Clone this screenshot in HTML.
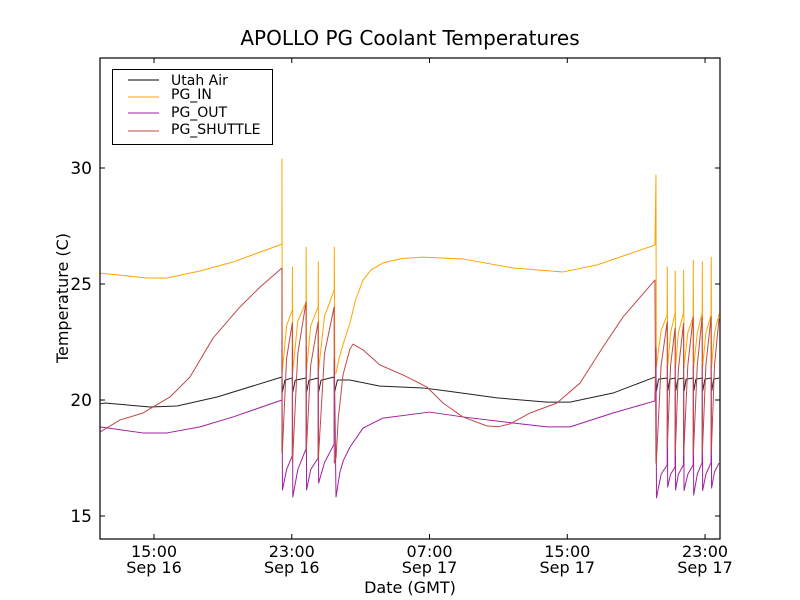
<!DOCTYPE html>
<html><head><meta charset="utf-8"><style>
body{margin:0;background:#fff;}
svg{display:block;font-family:"DejaVu Sans","Liberation Sans",sans-serif;}
</style></head><body>
<svg id="chart" width="800" height="600">
<rect width="800" height="600" fill="#fff"/>
<text x="410" y="45" font-size="20" text-anchor="middle">APOLLO PG Coolant Temperatures</text>
<g id="series"></g>
<g id="axes"></g>
<text x="410" y="593" font-size="16" text-anchor="middle">Date (GMT)</text>
<text transform="translate(68,298) rotate(-90)" font-size="16" text-anchor="middle">Temperature (C)</text>
<g>
<rect x="112.5" y="69.5" width="160" height="75" fill="#fff" stroke="#000" stroke-width="1"/>
<line x1="128" y1="80" x2="159" y2="80" stroke="#000" stroke-width="1"/>
<text x="171" y="85" font-size="14">Utah Air</text>
<line x1="128" y1="97" x2="159" y2="97" stroke="#ffa500" stroke-width="1"/>
<text x="171" y="99" font-size="14">PG_IN</text>
<line x1="128" y1="113" x2="159" y2="113" stroke="#a020a0" stroke-width="1"/>
<text x="171" y="117" font-size="14">PG_OUT</text>
<line x1="128" y1="131" x2="159" y2="131" stroke="#c04848" stroke-width="1"/>
<text x="171" y="134" font-size="14">PG_SHUTTLE</text>
</g>
</svg>
<script>
// hours since Sep 16 00:00 GMT
const airHours=[11.86,12.15,14.77,16.34,18.66,22.43,22.46,22.6,23.03,23.06,23.2,23.83,23.86,24.0,24.53,24.56,24.7,25.46,25.49,25.65,26.38,28.12,30.62,32.01,34.92,37.82,39.16,41.66,44.09,44.15,44.18,44.3,44.81,44.84,44.95,45.27,45.3,45.42,45.76,45.79,45.9,46.32,46.35,46.47,46.84,46.87,46.99,47.36,47.39,47.5,47.81];
const airTemps=[19.83,19.87,19.70,19.74,20.13,20.99,20.35,20.85,20.95,20.35,20.85,20.95,20.35,20.85,20.95,20.35,20.85,20.99,20.35,20.86,20.86,20.60,20.52,20.39,20.09,19.91,19.91,20.30,20.99,20.99,20.4,20.9,20.95,20.4,20.9,20.95,20.4,20.9,20.95,20.4,20.9,20.95,20.4,20.9,20.95,20.4,20.9,20.95,20.4,20.9,20.95];
const inHours=[11.86,14.59,15.75,17.67,19.59,22.43,22.43,22.45,22.7,23.03,23.04,23.06,23.35,23.83,23.84,23.86,24.1,24.53,24.54,24.56,24.9,25.46,25.47,25.5,25.57,25.75,25.98,26.38,26.7,27.14,27.6,28.30,29.4,30.62,32.94,35.85,38.75,40.72,44.09,44.15,44.17,44.45,44.80,44.81,44.83,45.0,45.26,45.27,45.29,45.45,45.75,45.76,45.78,46.0,46.31,46.32,46.34,46.55,46.83,46.84,46.86,47.05,47.35,47.36,47.38,47.55,47.81];
const inTemps=[25.47,25.26,25.26,25.56,25.95,26.72,30.39,21.21,23.2,23.88,25.73,21.21,23.4,24.22,26.59,21.29,23.2,24.01,25.95,21.29,23.6,24.74,26.59,21.16,21.16,21.8,22.4,23.32,24.3,25.17,25.6,25.91,26.1,26.16,26.08,25.69,25.52,25.82,26.68,29.70,21.42,23.0,23.66,25.73,21.42,22.9,23.75,25.56,21.42,22.9,23.75,25.60,21.42,22.9,23.58,26.03,21.42,22.9,23.75,25.95,21.42,22.9,23.66,26.16,21.42,22.9,23.71];
const outHours=[11.86,14.36,15.75,17.67,19.59,22.43,22.43,22.46,22.7,23.03,23.04,23.06,23.35,23.83,23.84,23.86,24.1,24.53,24.54,24.56,24.9,25.46,25.47,25.57,25.8,26.0,26.38,27.14,28.30,31.0,32.94,35.85,37.82,39.16,41.66,44.09,44.15,44.18,44.45,44.80,44.81,44.83,45.0,45.26,45.27,45.29,45.45,45.75,45.76,45.78,46.0,46.31,46.32,46.34,46.55,46.83,46.84,46.86,47.05,47.35,47.36,47.38,47.55,47.81];
const outTemps=[18.84,18.58,18.58,18.84,19.27,20.0,22.67,16.12,17.0,17.6,22.2,15.82,17.0,17.9,22.3,16.12,17.0,17.5,22.2,16.42,17.3,18.1,21.8,15.82,16.9,17.4,17.97,18.79,19.22,19.48,19.27,19.01,18.84,18.84,19.44,19.96,22.24,15.78,16.8,17.2,21.5,16.25,16.8,17.11,21.5,16.12,16.8,17.2,21.5,16.1,16.8,17.2,21.5,15.9,16.8,17.3,21.5,16.1,16.8,17.3,21.5,16.2,16.9,17.28];
const shuttleHours=[11.86,13.03,14.36,15.93,17.09,18.43,19.99,21.16,22.43,22.43,22.45,22.7,23.03,23.04,23.35,23.83,23.84,24.1,24.53,24.54,24.9,25.46,25.47,25.57,25.7,25.98,26.38,26.56,27.14,28.12,29.46,30.85,31.78,32.94,34.34,35.0,35.67,36.84,38.40,39.74,41.07,42.24,44.09,44.15,44.17,44.45,44.80,44.81,45.0,45.26,45.27,45.45,45.75,45.76,46.0,46.31,46.32,46.55,46.83,46.84,47.05,47.35,47.36,47.55,47.81];
const shuttleTemps=[18.62,19.14,19.44,20.13,20.99,22.67,24.01,24.87,25.69,17.72,17.72,21.8,23.32,17.28,22.0,24.22,17.72,21.5,23.36,17.41,22.0,24.01,17.28,17.5,19.2,21.1,22.2,22.41,22.16,21.51,21.08,20.56,19.87,19.27,18.88,18.85,18.97,19.44,19.87,20.73,22.28,23.58,25.17,17.28,17.28,21.5,23.36,17.97,21.5,23.10,17.63,21.3,23.3,17.63,21.5,23.58,17.63,21.5,23.58,17.63,21.5,23.58,17.63,21.5,23.5];
const yTicks=[15,20,25,30];
const xTickHours=[15,23,31,39,47];
const xTickTimes=["15:00","23:00","07:00","15:00","23:00"];
const xTickDates=["Sep 16","Sep 16","Sep 17","Sep 17","Sep 17"];

const NS="http://www.w3.org/2000/svg";
const L=100,R=720,T=58,B=539;
function xs(h){return 154+(h-15)*17.22;}
function ys(v){return 400-(v-20)*23.2;}
const sg=document.getElementById('series');
function mk(tag,attrs,parent){const e=document.createElementNS(NS,tag);for(const k in attrs)e.setAttribute(k,attrs[k]);parent.appendChild(e);return e;}
function drawLine(hs,vs,color,name){
  let d='';for(let i=0;i<hs.length;i++){d+=(i?'L':'M')+xs(hs[i]).toFixed(2)+' '+ys(vs[i]).toFixed(2);}
  const p=mk('path',{d:d,fill:'none',stroke:color,'stroke-width':'1','stroke-linejoin':'round'},sg);
  
  
}
drawLine(airHours,airTemps,'#222','utah-air-line');
drawLine(inHours,inTemps,'#ffa500','pg-in-line');
drawLine(outHours,outTemps,'#a020a0','pg-out-line');
drawLine(shuttleHours,shuttleTemps,'#c04848','pg-shuttle-line');
const ax=document.getElementById('axes');
const frame=mk('rect',{x:L,y:T,width:R-L,height:B-T,fill:'none',stroke:'#000','stroke-width':'1.2'},ax);


yTicks.forEach(v=>{
  const y=ys(v);
  mk('line',{x1:L,y1:y,x2:L+5,y2:y,stroke:'#000'},ax);
  mk('line',{x1:R,y1:y,x2:R-5,y2:y,stroke:'#000'},ax);
  const t=mk('text',{x:92,y:y+6,'font-size':'17','text-anchor':'end'},ax);
  t.textContent=v;
  
  
});
xTickHours.forEach((h,i)=>{
  const x=xs(h);
  mk('line',{x1:x,y1:B,x2:x,y2:B-5,stroke:'#000'},ax);
  mk('line',{x1:x,y1:T,x2:x,y2:T+5,stroke:'#000'},ax);
  const t=mk('text',{x:x,y:557,'font-size':'16','text-anchor':'middle'},ax);
  t.textContent=xTickTimes[i];
  
  
  const t2=mk('text',{x:x,y:573,'font-size':'16','text-anchor':'middle'},ax);
  t2.textContent=xTickDates[i];
  
  
});
</script>
</body></html>
